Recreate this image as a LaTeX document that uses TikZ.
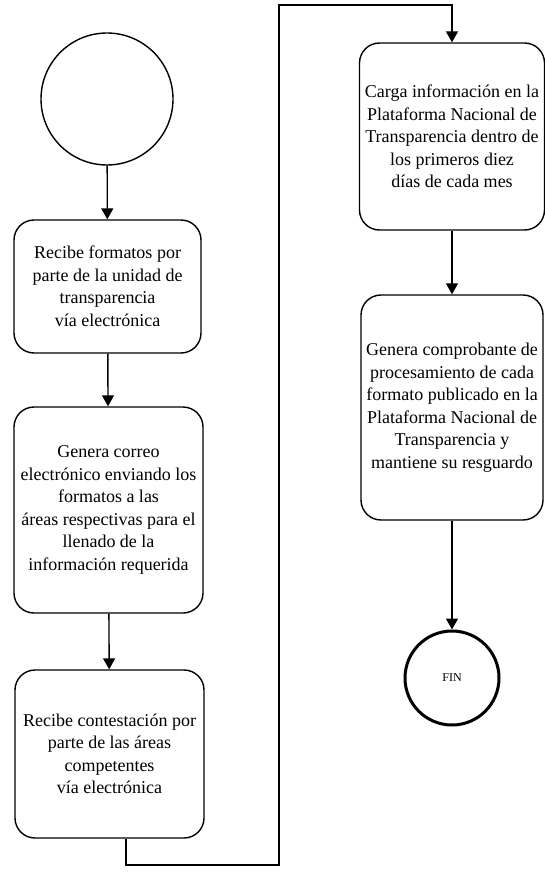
\documentclass[tikz,border=0pt]{standalone}
\usepackage{fontspec}
\setmainfont{Liberation Serif}
\usetikzlibrary{arrows.meta, positioning}
\newcommand{\boxfont}{\fontsize{18}{22.5}\selectfont}

\begin{document}
\begin{tikzpicture}[x=1pt, y=-1pt, line width=1.4pt,
    paso/.style={draw, rectangle, rounded corners=20pt, align=center,
      inner sep=0pt, font=\boxfont},
    flecha/.style={-{Triangle[width=12pt,length=11pt]}}]
  \useasboundingbox (0,0) rectangle (544,877);
  % start and end
  \node[draw, circle, minimum size=132pt] (inicio) at (107,99) {};
  \node[draw, circle, minimum size=94pt, line width=3pt,
    font=\fontsize{12}{14}\selectfont] (fin) at (452,678) {FIN};
  % steps, left column
  \node[paso, minimum width=187pt, minimum height=133pt] (recibe) at (107.5,286.5)
    {Recibe formatos por\\parte de la unidad de\\transparencia\\vía electrónica};
  \node[paso, minimum width=189pt, minimum height=206pt] (correo) at (108.5,510)
    {Genera correo\\electrónico enviando los\\formatos a las\\áreas respectivas para el\\llenado de la\\información requerida};
  \node[paso, minimum width=189pt, minimum height=168pt] (contesta) at (109.5,754)
    {Recibe contestación por\\parte de las áreas\\competentes\\vía electrónica};
  % steps, right column
  \node[paso, minimum width=185pt, minimum height=187pt] (carga) at (452,136.5)
    {Carga información en la\\Plataforma Nacional de\\Transparencia dentro de\\los primeros diez\\días de cada mes};
  \node[paso, minimum width=182pt, minimum height=225pt] (comprueba) at (452,407.5)
    {Genera comprobante de\\procesamiento de cada\\formato publicado en la\\Plataforma Nacional de\\Transparencia y\\mantiene su resguardo};
  % bends of the long connector
  \coordinate (b1) at (126,865);
  \coordinate (b2) at (279,865);
  \coordinate (b3) at (279,5);
  \coordinate (b4) at (452,5);
  \draw[flecha] (inicio) -- (recibe);
  \draw[flecha] (recibe) -- (correo);
  \draw[flecha] (correo) -- (contesta);
  \draw[flecha, line width=2pt] (contesta.south -| b1) -- (b1) -- (b2) -- (b3) -- (b4) -- (carga.north);
  \draw[flecha] (carga) -- (comprueba);
  \draw[flecha] (comprueba) -- (fin);
\end{tikzpicture}
\end{document}
